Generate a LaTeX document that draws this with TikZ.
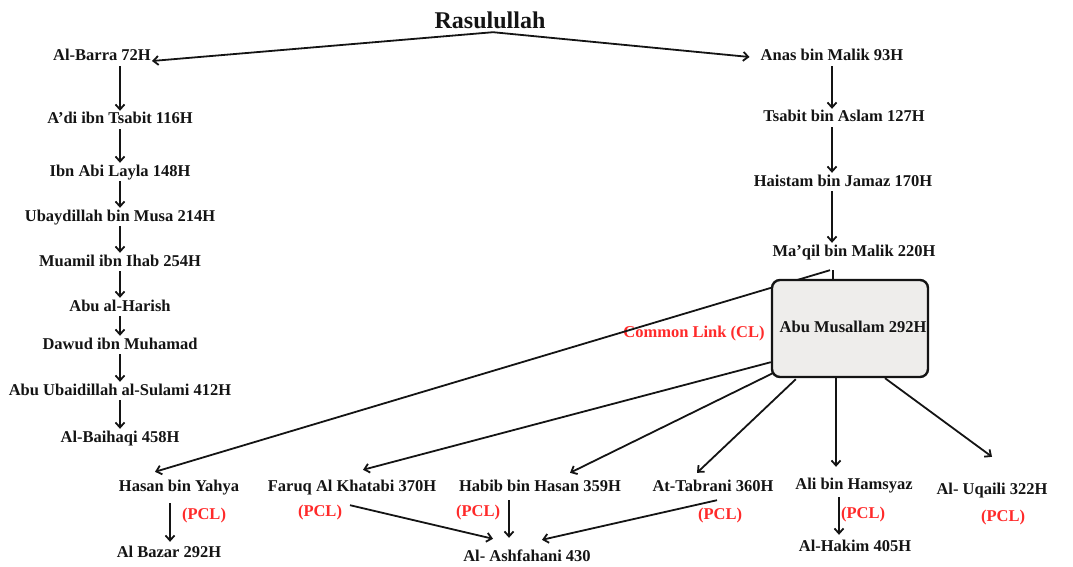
\documentclass[tikz,border=0pt]{standalone}
\usepackage{fontspec}
\setmainfont{Liberation Serif}
\usetikzlibrary{arrows.meta}
\definecolor{ink}{HTML}{141414}
\definecolor{pclred}{HTML}{FF2A2A}
\definecolor{boxfill}{HTML}{EEEDEB}
\begin{document}
\begin{tikzpicture}[x=1pt,y=1pt,
  lbl/.style={font=\fontsize{16.5}{18}\selectfont\bfseries, text=ink, inner sep=1pt, text height=12pt, text depth=4pt},
  red/.style={lbl, text=pclred},
  conn/.style={draw=ink, line width=1.8pt},
  arr/.style={conn, -{Straight Barb[length=5pt,width=9pt,line width=1.8pt]}},
  cl/.style={lbl, draw=ink, line width=2.4pt, fill=boxfill, rounded corners=8pt, minimum width=156pt, minimum height=97pt, inner sep=0pt}
]
\useasboundingbox (0,0) rectangle (1073,-567);
% nodes
\node[lbl, font=\fontsize{24}{26}\selectfont\bfseries, text height=16pt, text depth=2pt] (rasul) at (490,-22) {Rasulullah};
\node[lbl] (barra) at (102,-57) {Al-Barra 72H};
\node[lbl] (anas) at (832,-57) {Anas bin Malik 93H};
\node[lbl] (adi) at (120,-120) {A'di ibn Tsabit 116H};
\node[lbl] (ibn) at (120,-172) {Ibn Abi Layla 148H};
\node[lbl] (ubay) at (120,-217) {Ubaydillah bin Musa 214H};
\node[lbl] (muamil) at (120,-262) {Muamil ibn Ihab 254H};
\node[lbl] (harish) at (120,-307) {Abu al-Harish};
\node[lbl] (dawud) at (120,-345) {Dawud ibn Muhamad};
\node[lbl] (sulami) at (120,-391) {Abu Ubaidillah al-Sulami 412H};
\node[lbl] (baihaqi) at (120,-438) {Al-Baihaqi 458H};
\node[lbl] (tsabit) at (844,-118) {Tsabit bin Aslam 127H};
\node[lbl] (haistam) at (843,-182) {Haistam bin Jamaz 170H};
\node[lbl] (maqil) at (854,-252) {Ma'qil bin Malik 220H};
\node[red] (cltext) at (694,-333) {Common Link (CL)};
\node[lbl] (hasan) at (179,-487) {Hasan bin Yahya};
\node[red] (pcla) at (204,-515) {(PCL)};
\node[lbl] (bazar) at (169,-553) {Al Bazar 292H};
\node[lbl] (faruq) at (352,-487) {Faruq Al Khatabi 370H};
\node[red] (pclb) at (320,-512) {(PCL)};
\node[lbl] (habib) at (540,-487) {Habib bin Hasan 359H};
\node[red] (pclc) at (478,-512) {(PCL)};
\node[lbl] (ashf) at (527,-557) {Al- Ashfahani 430};
\node[lbl] (tabrani) at (713,-487) {At-Tabrani 360H};
\node[red] (pcld) at (720,-515) {(PCL)};
\node[lbl] (ali) at (854,-485) {Ali bin Hamsyaz};
\node[red] (pcle) at (863,-514) {(PCL)};
\node[lbl] (hakim) at (855,-547) {Al-Hakim 405H};
\node[lbl] (uqaili) at (992,-490) {Al- Uqaili 322H};
\node[red] (pclf) at (1003,-517) {(PCL)};
% top branches
\draw[arr] ([xshift=3pt]rasul.south) -- ([yshift=-4pt]barra.east);
\draw[arr] ([xshift=3pt]rasul.south) -- ([xshift=-10pt]anas.west);
% left column
\draw[arr] (barra.south -| adi.north) -- (adi.north);
\draw[arr] (adi) -- (ibn);
\draw[arr] (ibn) -- (ubay);
\draw[arr] (ubay) -- (muamil);
\draw[arr] (muamil) -- (harish);
\draw[arr] (harish) -- (dawud);
\draw[arr] (dawud) -- (sulami);
\draw[arr] (sulami) -- (baihaqi);
% right column
\draw[arr] (anas.south) -- (anas.south |- tsabit.north);
\draw[arr] (tsabit.south -| anas.south) -- (haistam.north -| anas.south);
\draw[arr] (haistam.south -| anas.south) -- (maqil.north -| anas.south);
% lines behind box
\draw[arr] ([xshift=-24pt,yshift=-9pt]maqil.south) -- ([xshift=-24pt,yshift=6pt]hasan.north);
\draw[conn] ([xshift=-21pt,yshift=-9pt]maqil.south) -- ++(0,-16);
\node[cl] (box) at (850,-328.5) {};
\node[lbl] (boxtext) at (853,-328) {Abu Musallam 292H};
\draw[arr] ([yshift=16pt]box.south west) -- ([xshift=11pt,yshift=8pt]faruq.north);
\draw[arr] ([xshift=2pt,yshift=5pt]box.south west) -- ([xshift=30pt,yshift=5pt]habib.north);
\draw[arr] ([xshift=25pt,yshift=-1pt]box.south west) -- ([xshift=-16pt,yshift=5pt]tabrani.north);
\draw[arr] ([xshift=-14pt]box.south) -- ([xshift=-18pt,yshift=9pt]ali.north);
\draw[arr] ([xshift=35pt]box.south) -- ([yshift=24pt]uqaili.north);
% bottom
\draw[arr] ([xshift=-9pt,yshift=-7pt]hasan.south) -- ([xshift=1pt,yshift=2pt]bazar.north);
\draw[arr] ([xshift=-2pt,yshift=-9pt]faruq.south) -- ([xshift=-34pt,yshift=9pt]ashf.north);
\draw[arr] ([xshift=-31pt,yshift=-4pt]habib.south) -- ([xshift=-18pt,yshift=10pt]ashf.north);
\draw[arr] ([xshift=4pt,yshift=-4pt]tabrani.south) -- ([xshift=15pt,yshift=8pt]ashf.north);
\draw[arr] ([xshift=-15pt,yshift=-3pt]ali.south) -- ([xshift=-16pt,yshift=3pt]hakim.north);
\end{tikzpicture}
\end{document}
